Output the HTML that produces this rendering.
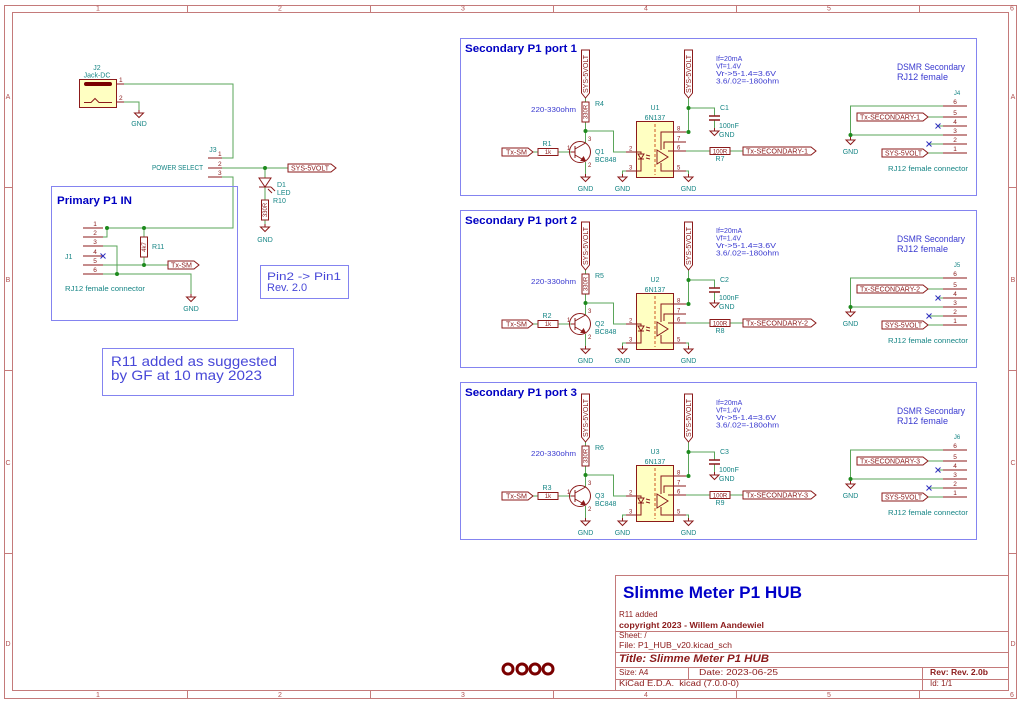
<!DOCTYPE html>
<html><head><meta charset="utf-8"><style>
html,body{margin:0;padding:0;background:#fff;}
svg{display:block;font-family:"Liberation Sans",sans-serif;}
</style></head><body>
<svg width="1024" height="708" viewBox="0 0 1024 708" xmlns="http://www.w3.org/2000/svg">
<defs>
<g id="gnd" fill="none" stroke="#8b1a1a" stroke-width="1"><path d="M0 0V3M-4.5 3H4.5L0 7.5Z"/></g>
<g id="pg" fill="none" stroke-width="1">
 <rect x="460.5" y="38.5" width="516" height="157" stroke="#8484f0"/>
 <path stroke="#5aa55a" d="M585.5 98V102M585.5 122V143M585.5 131H613.5V152H626M533 152H538M558 152H571M585.5 162V174M626 171H622.5V174M688.5 98V132H686M688.5 108H714.5V116M714.5 120V128M686 151H710M730 151H743M686 171H688.5V174M943 106H850.5V137M850.5 135H943M928 117H943M929 144H943M938 126H943M928 153H943"/>
 <g fill="#1d8a1d" stroke="none"><circle cx="585.5" cy="131" r="2"/><circle cx="688.5" cy="108" r="2"/><circle cx="688.5" cy="132" r="2"/><circle cx="850.5" cy="135" r="2"/></g>
 <g stroke="#8b1a1a">
  <path d="M581.5 50H589.5V93L585.5 98L581.5 93Z"/>
  <path d="M684.5 50H692.5V93L688.5 98L684.5 93Z"/>
  <rect x="582" y="102" width="7" height="20"/>
  <circle cx="580" cy="152" r="10.5"/>
  <path d="M571 152H575M575 146V158M575 149L585.5 143M575 155L585.5 161"/>
  <path d="M585.5 161L581 160.5L583.5 157Z" fill="#8b1a1a"/>
  <rect x="538" y="148.5" width="20" height="7"/>
  <path d="M502 148H528L533 152L528 156H502Z"/>
  <rect x="636.5" y="121.5" width="37" height="56" fill="#ffffc2"/>
  <path d="M626 152H636M626 171H636M673 132H686M673 142H686M673 151H686M673 171H686"/>
  <path d="M655 124V175" stroke="#cc5522" stroke-dasharray="3 2"/>
  <path d="M636 152H641V154M636 171H641V159M638 154H644L641 159ZM638 159H644M646 155l4 1M646 158l4 1"/>
  <path d="M673 132H661V150M673 142H664V149M673 151H668M673 171H661V163M657 150V164L668 157Z"/>
  <path d="M709 116H720M709 120H720" stroke-width="1.4"/>
  <rect x="710" y="147.5" width="20" height="7"/>
  <path d="M743 147H811L816 151L811 155H743Z"/>
  <path d="M943 106H967M943 117H967M943 126H967M943 135H967M943 144H967M943 153H967"/>
  <path d="M857 113H923L928 117L923 121H857Z"/>
  <path d="M882 149H923L928 153L923 157H882Z"/>
 </g>
 <use href="#gnd" x="585.5" y="174"/>
 <use href="#gnd" x="622.5" y="174"/>
 <use href="#gnd" x="688.5" y="174"/>
 <use href="#gnd" x="714.5" y="128"/>
 <use href="#gnd" x="850.5" y="137"/>
 <path d="M935.5 123.5l5 5m0 -5l-5 5M926.5 141.5l5 5m0-5l-5 5" stroke="#3030c0"/>
</g>
</defs>

<!-- Border -->
<g stroke="#c47a7a" fill="none" stroke-width="1">
<rect x="4.5" y="5.5" width="1012" height="693"/>
<rect x="12.5" y="12.5" width="996" height="678"/>
<path d="M187.5 5V12M370.5 5V12M553.5 5V12M736.5 5V12M919.5 5V12M187.5 691V699M370.5 691V699M553.5 691V699M736.5 691V699M919.5 691V699M4 187.5H12M4 370.5H12M4 553.5H12M1009 187.5H1017M1009 370.5H1017M1009 553.5H1017"/>
</g>
<g font-size="7" fill="#b05050" text-anchor="middle">
<text x="98" y="10.5">1</text><text x="280" y="10.5">2</text><text x="463" y="10.5">3</text><text x="646" y="10.5">4</text><text x="829" y="10.5">5</text><text x="1012" y="10.5">6</text>
<text x="98" y="697">1</text><text x="280" y="697">2</text><text x="463" y="697">3</text><text x="646" y="697">4</text><text x="829" y="697">5</text><text x="1012" y="697">6</text>
<text x="8" y="99">A</text><text x="8" y="282">B</text><text x="8" y="465">C</text><text x="8" y="646">D</text>
<text x="1013" y="99">A</text><text x="1013" y="282">B</text><text x="1013" y="465">C</text><text x="1013" y="646">D</text>
</g>

<!-- Title block -->
<g stroke="#c47a7a" fill="none">
<rect x="615.5" y="575.5" width="393" height="115"/>
<path d="M615 631.5H1009M615 652.5H1009M615 667.5H1009M615 679.5H1009M688.5 667V680M922.5 667V691"/>
</g>
<text x="623" y="598" font-size="17" font-weight="bold" fill="#0000c8" textLength="179" lengthAdjust="spacingAndGlyphs">Slimme Meter P1 HUB</text>
<g font-size="8" fill="#8b1a1a">
<text x="619" y="617">R11 added</text>
<text x="619" y="628" font-weight="bold" textLength="145" lengthAdjust="spacingAndGlyphs">copyright 2023 - Willem Aandewiel</text>
<text x="619" y="638">Sheet: /</text>
<text x="619" y="648" textLength="113" lengthAdjust="spacingAndGlyphs">File: P1_HUB_v20.kicad_sch</text>
<text x="619" y="662" font-size="11" font-weight="bold" font-style="italic" textLength="150" lengthAdjust="spacingAndGlyphs">Title: Slimme Meter P1 HUB</text>
<text x="619" y="675">Size: A4</text>
<text x="699" y="675" textLength="79" lengthAdjust="spacingAndGlyphs">Date: 2023-06-25</text>
<text x="930" y="675" font-weight="bold" textLength="58" lengthAdjust="spacingAndGlyphs">Rev: Rev. 2.0b</text>
<text x="619" y="686" textLength="120" lengthAdjust="spacingAndGlyphs">KiCad E.D.A.&#160; kicad (7.0.0-0)</text>
<text x="930" y="686">Id: 1/1</text>
</g>

<!-- Mounting holes -->
<g fill="#fff" stroke="#7a0000" stroke-width="3">
<circle cx="508" cy="669" r="5"/><circle cx="522" cy="669" r="5"/><circle cx="535" cy="669" r="5"/><circle cx="548" cy="669" r="5"/>
</g>

<!-- Left area: J2, J3 -->
<g fill="none" stroke-width="1">
<rect x="79.5" y="79.5" width="37" height="28" fill="#ffffc2" stroke="#8b1a1a"/>
<rect x="84" y="82" width="28" height="4" rx="2" fill="#7a0000" stroke="none"/>
<path d="M84 102.5H91L95 98.5L99 102.5H112M116 84H124M116 102H124M208 158H222M208 168H222M208 177H222" stroke="#8b1a1a"/>
<path d="M124 84H233V158H222M124 102H139V110M222 168H288M265 168V178M265 187V200M265 220V224M222 177H233V228H107" stroke="#5aa55a"/>
<path d="M259 178H271L265 187ZM259 187H271M268 189l4 4M271 187l4 4" stroke="#8b1a1a"/>
<rect x="261.5" y="200" width="7" height="20" stroke="#8b1a1a"/>
<path d="M288 164H331L336 168L331 172H288Z" stroke="#8b1a1a"/>
<circle cx="265" cy="168" r="2" fill="#1d8a1d"/>
</g>
<use href="#gnd" x="139" y="110"/>
<use href="#gnd" x="265" y="224"/>
<g font-size="7" fill="#168585">
<text x="97" y="70" text-anchor="middle">J2</text>
<text x="97" y="77.5" text-anchor="middle">Jack-DC</text>
<text x="139" y="126" text-anchor="middle">GND</text>
<text x="213" y="152" text-anchor="middle">J3</text>
<text x="203" y="170" text-anchor="end" textLength="51" lengthAdjust="spacingAndGlyphs">POWER SELECT</text>
<text x="277" y="187">D1</text>
<text x="277" y="195">LED</text>
<text x="273" y="203">R10</text>
<text x="265" y="242" text-anchor="middle">GND</text>
</g>
<g font-size="6.5" fill="#8b1a1a">
<text x="119" y="82">1</text><text x="119" y="100">2</text>
<text x="218" y="156">1</text><text x="218" y="166">2</text><text x="218" y="175">3</text>
<text transform="translate(267.2,210) rotate(-90)" text-anchor="middle" font-size="6">330R</text>
<text x="291" y="170.5" font-size="7" textLength="38" lengthAdjust="spacingAndGlyphs">SYS-5VOLT</text>
</g>

<!-- Primary P1 IN -->
<rect x="51.5" y="186.5" width="186" height="134" fill="none" stroke="#8484f0"/>
<text x="57" y="204" font-size="11" font-weight="bold" fill="#0000c2" textLength="75" lengthAdjust="spacingAndGlyphs">Primary P1 IN</text>
<g fill="none">
<path d="M83 228H103M83 237H103M83 246H103M83 256H103M83 265H103M83 274H103" stroke="#8b1a1a"/>
<path d="M103 237H107V228M107 228H144M103 246H117V274M103 265H168M103 274H191V294M144 228V237M144 257V265" stroke="#5aa55a"/>
<rect x="140.5" y="237" width="7" height="20" stroke="#8b1a1a"/>
<path d="M168 261H194L199 265L194 269H168Z" stroke="#8b1a1a"/>
<path d="M100.5 253.5l5 5m0-5l-5 5" stroke="#3030c0"/>
</g>
<g fill="#1d8a1d"><circle cx="107" cy="228" r="2"/><circle cx="144" cy="228" r="2"/><circle cx="144" cy="265" r="2"/><circle cx="117" cy="274" r="2"/></g>
<use href="#gnd" x="191" y="294"/>
<g font-size="6.5" fill="#8b1a1a" text-anchor="middle">
<text x="95" y="226">1</text><text x="95" y="235">2</text><text x="95" y="244">3</text><text x="95" y="254">4</text><text x="95" y="263">5</text><text x="95" y="272">6</text>
<text transform="translate(146.2,247) rotate(-90)" font-size="6">4k7</text>
<text x="171" y="267.5" text-anchor="start" font-size="7" textLength="21" lengthAdjust="spacingAndGlyphs">Tx-SM</text>
</g>
<g font-size="7" fill="#168585">
<text x="65" y="259">J1</text>
<text x="152" y="249">R11</text>
<text x="191" y="311" text-anchor="middle">GND</text>
<text x="65" y="291" textLength="80" lengthAdjust="spacingAndGlyphs">RJ12 female connector</text>
</g>

<!-- Notes -->
<g fill="none" stroke="#8484f0">
<rect x="260.5" y="265.5" width="88" height="33"/>
<rect x="102.5" y="348.5" width="191" height="47"/>
</g>
<g fill="#4848d8">
<text x="267" y="280" font-size="11" textLength="74" lengthAdjust="spacingAndGlyphs">Pin2 -&gt; Pin1</text>
<text x="267" y="291" font-size="11">Rev. 2.0</text>
<text x="111" y="366" font-size="14" textLength="166" lengthAdjust="spacingAndGlyphs">R11 added as suggested</text>
<text x="111" y="380" font-size="14" textLength="151" lengthAdjust="spacingAndGlyphs">by GF at 10 may 2023</text>
</g>

<!-- Secondary ports geometry -->
<use href="#pg"/>
<use href="#pg" y="172"/>
<use href="#pg" y="344"/>

<!-- Port 1 texts -->
<g>
<text x="465" y="52" font-size="11" font-weight="bold" fill="#0000c2" textLength="112" lengthAdjust="spacingAndGlyphs">Secondary P1 port 1</text>
<g fill="#3a3ad0" font-size="7">
<text x="531" y="112" textLength="45" lengthAdjust="spacingAndGlyphs">220-330ohm</text>
<text x="716" y="61">If=20mA</text>
<text x="716" y="68.5">Vf=1.4V</text>
<text x="716" y="76" textLength="60" lengthAdjust="spacingAndGlyphs">Vr-&gt;5-1.4=3.6V</text>
<text x="716" y="83.5" textLength="63" lengthAdjust="spacingAndGlyphs">3.6/.02=-180ohm</text>
<text x="897" y="70" font-size="8.8" textLength="68" lengthAdjust="spacingAndGlyphs">DSMR Secondary</text>
<text x="897" y="80" font-size="8.8" textLength="51" lengthAdjust="spacingAndGlyphs">RJ12 female</text>
</g>
<g fill="#168585" font-size="7">
<text x="595" y="106">R4</text>
<text x="547" y="146" text-anchor="middle">R1</text>
<text x="595" y="154">Q1</text>
<text x="595" y="162">BC848</text>
<text x="655" y="110" text-anchor="middle">U1</text>
<text x="655" y="120" text-anchor="middle">6N137</text>
<text x="720" y="110">C1</text>
<text x="719" y="128">100nF</text>
<text x="719" y="137">GND</text>
<text x="720" y="161" text-anchor="middle">R7</text>
<text x="585.5" y="191" text-anchor="middle">GND</text>
<text x="622.5" y="191" text-anchor="middle">GND</text>
<text x="688.5" y="191" text-anchor="middle">GND</text>
<text x="957" y="95" text-anchor="middle" font-size="6">J4</text>
<text x="850.5" y="154" text-anchor="middle">GND</text>
<text x="888" y="171" textLength="80" lengthAdjust="spacingAndGlyphs">RJ12 female connector</text>
</g>
<g fill="#8b1a1a" font-size="6">
<text transform="translate(587.7,112) rotate(-90)" text-anchor="middle">330R</text>
<text x="548" y="154.2" text-anchor="middle">1k</text>
<text x="720" y="153.3" text-anchor="middle">100R</text>
<text x="629" y="150.5">2</text><text x="629" y="169.5">3</text>
<text x="677" y="130.5">8</text><text x="677" y="140.5">7</text><text x="677" y="149.5">6</text><text x="677" y="169.5">5</text>
<text x="567" y="150">1</text><text x="588" y="141">3</text><text x="588" y="167">2</text>
<g text-anchor="middle" font-size="6.5"><text x="955" y="104">6</text><text x="955" y="115">5</text><text x="955" y="124">4</text><text x="955" y="133">3</text><text x="955" y="142">2</text><text x="955" y="151">1</text></g>
<g font-size="7">
<text x="506" y="154.5" textLength="21" lengthAdjust="spacingAndGlyphs">Tx-SM</text>
<text x="746" y="153.5" textLength="62" lengthAdjust="spacingAndGlyphs">Tx-SECONDARY-1</text>
<text x="860" y="119.5" textLength="60" lengthAdjust="spacingAndGlyphs">Tx-SECONDARY-1</text>
<text x="885" y="155.5" textLength="37" lengthAdjust="spacingAndGlyphs">SYS-5VOLT</text>
<text transform="translate(588,74) rotate(-90)" text-anchor="middle" textLength="38" lengthAdjust="spacingAndGlyphs">SYS-5VOLT</text>
<text transform="translate(691,74) rotate(-90)" text-anchor="middle" textLength="38" lengthAdjust="spacingAndGlyphs">SYS-5VOLT</text>
</g>
</g>
</g>

<!-- Port 2 texts -->
<g transform="translate(0,172)">
<text x="465" y="52" font-size="11" font-weight="bold" fill="#0000c2" textLength="112" lengthAdjust="spacingAndGlyphs">Secondary P1 port 2</text>
<g fill="#3a3ad0" font-size="7">
<text x="531" y="112" textLength="45" lengthAdjust="spacingAndGlyphs">220-330ohm</text>
<text x="716" y="61">If=20mA</text>
<text x="716" y="68.5">Vf=1.4V</text>
<text x="716" y="76" textLength="60" lengthAdjust="spacingAndGlyphs">Vr-&gt;5-1.4=3.6V</text>
<text x="716" y="83.5" textLength="63" lengthAdjust="spacingAndGlyphs">3.6/.02=-180ohm</text>
<text x="897" y="70" font-size="8.8" textLength="68" lengthAdjust="spacingAndGlyphs">DSMR Secondary</text>
<text x="897" y="80" font-size="8.8" textLength="51" lengthAdjust="spacingAndGlyphs">RJ12 female</text>
</g>
<g fill="#168585" font-size="7">
<text x="595" y="106">R5</text>
<text x="547" y="146" text-anchor="middle">R2</text>
<text x="595" y="154">Q2</text>
<text x="595" y="162">BC848</text>
<text x="655" y="110" text-anchor="middle">U2</text>
<text x="655" y="120" text-anchor="middle">6N137</text>
<text x="720" y="110">C2</text>
<text x="719" y="128">100nF</text>
<text x="719" y="137">GND</text>
<text x="720" y="161" text-anchor="middle">R8</text>
<text x="585.5" y="191" text-anchor="middle">GND</text>
<text x="622.5" y="191" text-anchor="middle">GND</text>
<text x="688.5" y="191" text-anchor="middle">GND</text>
<text x="957" y="95" text-anchor="middle" font-size="6">J5</text>
<text x="850.5" y="154" text-anchor="middle">GND</text>
<text x="888" y="171" textLength="80" lengthAdjust="spacingAndGlyphs">RJ12 female connector</text>
</g>
<g fill="#8b1a1a" font-size="6">
<text transform="translate(587.7,112) rotate(-90)" text-anchor="middle">330R</text>
<text x="548" y="154.2" text-anchor="middle">1k</text>
<text x="720" y="153.3" text-anchor="middle">100R</text>
<text x="629" y="150.5">2</text><text x="629" y="169.5">3</text>
<text x="677" y="130.5">8</text><text x="677" y="140.5">7</text><text x="677" y="149.5">6</text><text x="677" y="169.5">5</text>
<text x="567" y="150">1</text><text x="588" y="141">3</text><text x="588" y="167">2</text>
<g text-anchor="middle" font-size="6.5"><text x="955" y="104">6</text><text x="955" y="115">5</text><text x="955" y="124">4</text><text x="955" y="133">3</text><text x="955" y="142">2</text><text x="955" y="151">1</text></g>
<g font-size="7">
<text x="506" y="154.5" textLength="21" lengthAdjust="spacingAndGlyphs">Tx-SM</text>
<text x="746" y="153.5" textLength="62" lengthAdjust="spacingAndGlyphs">Tx-SECONDARY-2</text>
<text x="860" y="119.5" textLength="60" lengthAdjust="spacingAndGlyphs">Tx-SECONDARY-2</text>
<text x="885" y="155.5" textLength="37" lengthAdjust="spacingAndGlyphs">SYS-5VOLT</text>
<text transform="translate(588,74) rotate(-90)" text-anchor="middle" textLength="38" lengthAdjust="spacingAndGlyphs">SYS-5VOLT</text>
<text transform="translate(691,74) rotate(-90)" text-anchor="middle" textLength="38" lengthAdjust="spacingAndGlyphs">SYS-5VOLT</text>
</g>
</g>
</g>

<!-- Port 3 texts -->
<g transform="translate(0,344)">
<text x="465" y="52" font-size="11" font-weight="bold" fill="#0000c2" textLength="112" lengthAdjust="spacingAndGlyphs">Secondary P1 port 3</text>
<g fill="#3a3ad0" font-size="7">
<text x="531" y="112" textLength="45" lengthAdjust="spacingAndGlyphs">220-330ohm</text>
<text x="716" y="61">If=20mA</text>
<text x="716" y="68.5">Vf=1.4V</text>
<text x="716" y="76" textLength="60" lengthAdjust="spacingAndGlyphs">Vr-&gt;5-1.4=3.6V</text>
<text x="716" y="83.5" textLength="63" lengthAdjust="spacingAndGlyphs">3.6/.02=-180ohm</text>
<text x="897" y="70" font-size="8.8" textLength="68" lengthAdjust="spacingAndGlyphs">DSMR Secondary</text>
<text x="897" y="80" font-size="8.8" textLength="51" lengthAdjust="spacingAndGlyphs">RJ12 female</text>
</g>
<g fill="#168585" font-size="7">
<text x="595" y="106">R6</text>
<text x="547" y="146" text-anchor="middle">R3</text>
<text x="595" y="154">Q3</text>
<text x="595" y="162">BC848</text>
<text x="655" y="110" text-anchor="middle">U3</text>
<text x="655" y="120" text-anchor="middle">6N137</text>
<text x="720" y="110">C3</text>
<text x="719" y="128">100nF</text>
<text x="719" y="137">GND</text>
<text x="720" y="161" text-anchor="middle">R9</text>
<text x="585.5" y="191" text-anchor="middle">GND</text>
<text x="622.5" y="191" text-anchor="middle">GND</text>
<text x="688.5" y="191" text-anchor="middle">GND</text>
<text x="957" y="95" text-anchor="middle" font-size="6">J6</text>
<text x="850.5" y="154" text-anchor="middle">GND</text>
<text x="888" y="171" textLength="80" lengthAdjust="spacingAndGlyphs">RJ12 female connector</text>
</g>
<g fill="#8b1a1a" font-size="6">
<text transform="translate(587.7,112) rotate(-90)" text-anchor="middle">330R</text>
<text x="548" y="154.2" text-anchor="middle">1k</text>
<text x="720" y="153.3" text-anchor="middle">100R</text>
<text x="629" y="150.5">2</text><text x="629" y="169.5">3</text>
<text x="677" y="130.5">8</text><text x="677" y="140.5">7</text><text x="677" y="149.5">6</text><text x="677" y="169.5">5</text>
<text x="567" y="150">1</text><text x="588" y="141">3</text><text x="588" y="167">2</text>
<g text-anchor="middle" font-size="6.5"><text x="955" y="104">6</text><text x="955" y="115">5</text><text x="955" y="124">4</text><text x="955" y="133">3</text><text x="955" y="142">2</text><text x="955" y="151">1</text></g>
<g font-size="7">
<text x="506" y="154.5" textLength="21" lengthAdjust="spacingAndGlyphs">Tx-SM</text>
<text x="746" y="153.5" textLength="62" lengthAdjust="spacingAndGlyphs">Tx-SECONDARY-3</text>
<text x="860" y="119.5" textLength="60" lengthAdjust="spacingAndGlyphs">Tx-SECONDARY-3</text>
<text x="885" y="155.5" textLength="37" lengthAdjust="spacingAndGlyphs">SYS-5VOLT</text>
<text transform="translate(588,74) rotate(-90)" text-anchor="middle" textLength="38" lengthAdjust="spacingAndGlyphs">SYS-5VOLT</text>
<text transform="translate(691,74) rotate(-90)" text-anchor="middle" textLength="38" lengthAdjust="spacingAndGlyphs">SYS-5VOLT</text>
</g>
</g>
</g>
</svg>
</body></html>
